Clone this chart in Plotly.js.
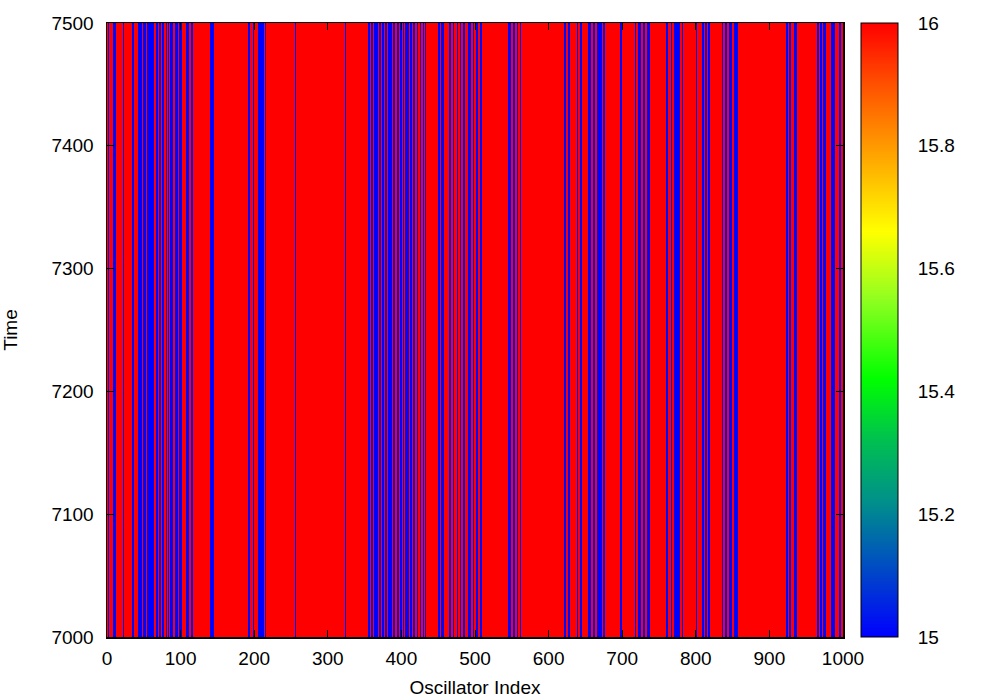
<!DOCTYPE html>
<html>
<head>
<meta charset="utf-8">
<script src="https://cdn.plot.ly/plotly-3.0.1.min.js"></script>
<style>html,body{margin:0;padding:0;background:#fff;}#chart{width:1000px;height:700px;}</style>
</head>
<body>
<div id="chart"></div>
<script>
// Oscillator index ranges (inclusive) that sit at value 15 (blue); all others are 16 (red)
const blueStart = [1,5,8,22,34,39,42,49,55,59,63,66,70,75,80,83,86,93,98,107,114,140,
  192,198,205,214,255,323,
  355,359,363,366,370,374,378,382,385,389,394,398,402,405,412,416,421,425,429,432,
  450,454,465,470,475,479,484,490,497,501,507,
  545,552,557,561,
  621,626,638,643,654,661,666,670,674,
  697,717,722,728,734,
  760,766,771,781,800,808,813,817,835,840,845,852,
  923,927,933,964,969,973,984,994];
const blueEnd = [2,5,11,22,36,39,46,52,57,61,63,68,72,76,80,83,89,95,101,111,116,144,
  193,199,212,215,256,324,
  357,360,364,367,371,375,379,383,386,390,396,400,403,410,413,417,422,426,430,433,
  451,457,466,471,476,480,485,493,498,503,508,
  548,554,558,562,
  622,628,639,645,656,662,669,671,675,
  699,718,724,730,737,
  761,767,777,782,801,810,814,818,836,842,848,856,
  924,929,936,966,970,976,988,996];
const nOsc = 1000;
const lowValue = 15, highValue = 16;
const timeRange = [7000, 7500];
const xTicks = [0,100,200,300,400,500,600,700,800,900,1000];
const yTicks = [7000,7100,7200,7300,7400,7500];
const cbTicks = [15,15.2,15.4,15.6,15.8,16];

const row = [];
for (let i = 0; i < nOsc; i++) {
  let v = highValue;
  for (let k = 0; k < blueStart.length; k++) {
    if (i >= blueStart[k] && i <= blueEnd[k]) { v = lowValue; break; }
  }
  row.push(v);
}
const xEdges = [];
for (let i = 0; i <= nOsc; i++) xEdges.push(i);

const font = {family: 'Liberation Sans, Arial, sans-serif', size: 19, color: '#000'};

const trace = {
  type: 'heatmap',
  z: [row],
  x: xEdges,
  y: timeRange,
  zmin: 15, zmax: 16,
  zsmooth: false,
  colorscale: [
    [0, '#0000ff'], [0.12, '#0050c0'], [0.22, '#00908a'], [0.32, '#00c050'],
    [0.42, '#00ff00'], [0.55, '#90ff20'], [0.66, '#ffff00'], [0.8, '#ff9900'],
    [0.9, '#ff5000'], [1, '#ff0000']
  ],
  colorbar: {
    x: 1.0245, xanchor: 'left', xpad: 0,
    y: 0.5, yanchor: 'middle', len: 1, lenmode: 'fraction', ypad: 0,
    thickness: 37, thicknessmode: 'pixels',
    outlinewidth: 1, outlinecolor: '#000',
    tickmode: 'array', tickvals: cbTicks, ticktext: cbTicks.map(String),
    ticks: 'outside', ticklen: 16, tickcolor: 'rgba(0,0,0,0)',
    tickfont: font
  },
  hoverinfo: 'skip'
};

const layout = {
  width: 1000, height: 700,
  margin: {l: 107, r: 157, t: 23, b: 63},
  paper_bgcolor: '#fff', plot_bgcolor: '#fff',
  font: font,
  xaxis: {
    range: [0, 1000], tickmode: 'array', tickvals: xTicks, ticktext: xTicks.map(String),
    ticks: 'inside', ticklen: 7, tickcolor: '#000', mirror: 'ticks',
    showline: true, linecolor: '#000', linewidth: 1.5, showgrid: false, zeroline: false,
    tickfont: font, ticklabelstandoff: 4,
    title: {text: 'Oscillator Index', font: font, standoff: 12}
  },
  yaxis: {
    range: [7000, 7500], tickmode: 'array', tickvals: yTicks, ticktext: yTicks.map(String),
    ticks: 'inside', ticklen: 7, tickcolor: '#000', mirror: 'ticks',
    showline: true, linecolor: '#000', linewidth: 1.5, showgrid: false, zeroline: false,
    tickfont: font, ticklabelstandoff: 8,
    title: {text: 'Time', font: font, standoff: 32}
  },
  showlegend: false
};

Plotly.newPlot('chart', [trace], layout, {displayModeBar: false, staticPlot: true});
</script>
</body>
</html>
